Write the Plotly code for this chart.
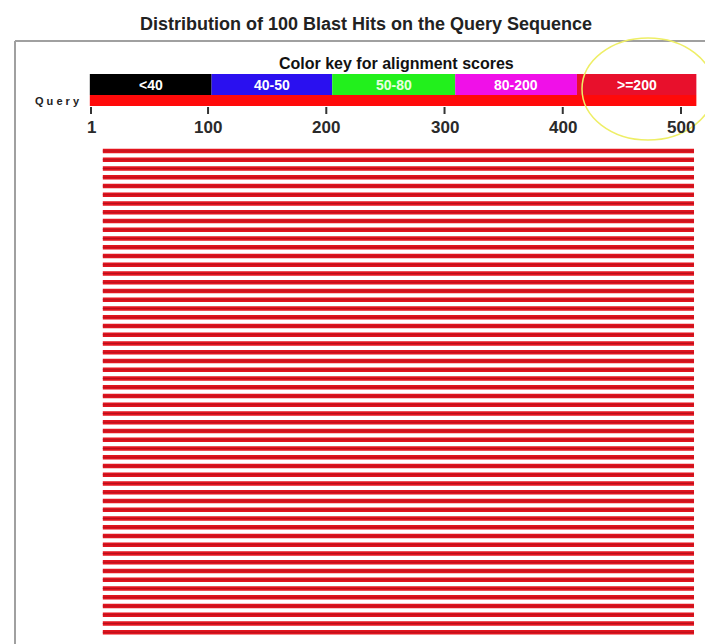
import plotly.graph_objects as go

# ---- data ----
title_text = "Distribution of 100 Blast Hits on the Query Sequence"
key_title = "Color key for alignment scores"
key_labels = ["<40", "40-50", "50-80", "80-200", ">=200"]
key_colors = ["#000000", "#2a10f0", "#22f01c", "#f010e8", "#e8102c"]
key_bounds = [0, 103, 205, 309, 412, 513]
query_length = 513
tick_vals = [1, 100, 200, 300, 400, 500]
tick_labels = ["1", "100", "200", "300", "400", "500"]
n_visible_hits = 56
hit_start = [11] * n_visible_hits
hit_end = [511] * n_visible_hits
hit_color = "#e3141e"

# ---- geometry (pixel layout) ----
W, H = 705, 644
px_per_unit = 590 / 499
x0_px = 91  # pixel of position 1
row0_px, row_step = 151, 8.75

def xr(pix):
    return 1 + (pix - x0_px) / px_per_unit

def yr(pix):
    return (pix - row0_px) / row_step

fig = go.Figure()

# hits
xs, ys = [], []
for i, (s, e) in enumerate(zip(hit_start, hit_end)):
    xs += [s, e, None]
    ys += [i, i, None]
fig.add_trace(go.Scatter(x=xs, y=ys, mode="lines",
                         line=dict(color=hit_color, width=4.4),
                         hoverinfo="skip", showlegend=False))
fig.add_trace(go.Scatter(x=xs, y=ys, mode="lines",
                         line=dict(color="#b5101c", width=1.2),
                         hoverinfo="skip", showlegend=False))

shapes = []
annotations = []

# frame (left and top edges visible)
shapes.append(dict(type="line", xref="x", yref="y", x0=xr(15), x1=xr(15), y0=yr(41), y1=yr(650),
                   line=dict(color="#a0a0a0", width=2)))
shapes.append(dict(type="line", xref="x", yref="y", x0=xr(15), x1=xr(710), y0=yr(41), y1=yr(41),
                   line=dict(color="#a0a0a0", width=2)))

# color key
for i, lab in enumerate(key_labels):
    a, b = key_bounds[i], key_bounds[i + 1]
    shapes.append(dict(type="rect", xref="x", yref="y", x0=a, x1=b, y0=yr(74), y1=yr(95),
                       fillcolor=key_colors[i], line=dict(width=0)))
    annotations.append(dict(x=(a + b) / 2, y=yr(85), xref="x", yref="y", text="<b>" + lab + "</b>",
                            showarrow=False, font=dict(family="Liberation Sans, Arial", size=14,
                                                       color="#ffffff" if i != 2 else "#e8ffe0"),
                            xanchor="center", yanchor="middle"))

# query bar
shapes.append(dict(type="rect", xref="x", yref="y", x0=0, x1=query_length, y0=yr(95), y1=yr(106),
                   fillcolor="#ff0a0a", line=dict(width=0)))

# ticks
for v, t in zip(tick_vals, tick_labels):
    shapes.append(dict(type="line", xref="x", yref="y", x0=v, x1=v, y0=yr(107), y1=yr(114),
                       line=dict(color="#333333", width=2)))
    annotations.append(dict(x=v, y=yr(127), xref="x", yref="y", text="<b>" + t + "</b>", showarrow=False,
                            font=dict(family="Liberation Sans, Arial", size=17, color="#2a2a2a"),
                            xanchor="center", yanchor="middle"))

# texts
annotations.append(dict(x=xr(366), y=yr(24), xref="x", yref="y", text="<b>" + title_text + "</b>",
                        showarrow=False, font=dict(family="Liberation Sans, Arial", size=18, color="#222222"),
                        xanchor="center", yanchor="middle"))
annotations.append(dict(x=xr(396), y=yr(63), xref="x", yref="y", text="<b>" + key_title + "</b>",
                        showarrow=False, font=dict(family="Liberation Sans, Arial", size=16, color="#111111"),
                        xanchor="center", yanchor="middle"))
annotations.append(dict(x=xr(57), y=yr(101), xref="x", yref="y", text="<b>Q u e r y</b>",
                        showarrow=False, font=dict(family="Liberation Sans, Arial", size=11, color="#222222"),
                        xanchor="center", yanchor="middle"))

# highlight ellipse
shapes.append(dict(type="circle", xref="x", yref="y", x0=xr(582), x1=xr(714), y0=yr(38), y1=yr(140),
                   line=dict(color="#eeee66", width=1.5)))

fig.update_layout(
    width=W, height=H, margin=dict(l=0, r=0, t=0, b=0),
    paper_bgcolor="white", plot_bgcolor="white",
    xaxis=dict(range=[xr(0), xr(W)], visible=False, fixedrange=True),
    yaxis=dict(range=[yr(H), yr(0)], visible=False, fixedrange=True),
    shapes=shapes, annotations=annotations, showlegend=False,
)

fig.write_html("out.html", config={"displayModeBar": False},
               post_script="document.body.style.margin='0px';document.body.style.overflow='hidden';")
